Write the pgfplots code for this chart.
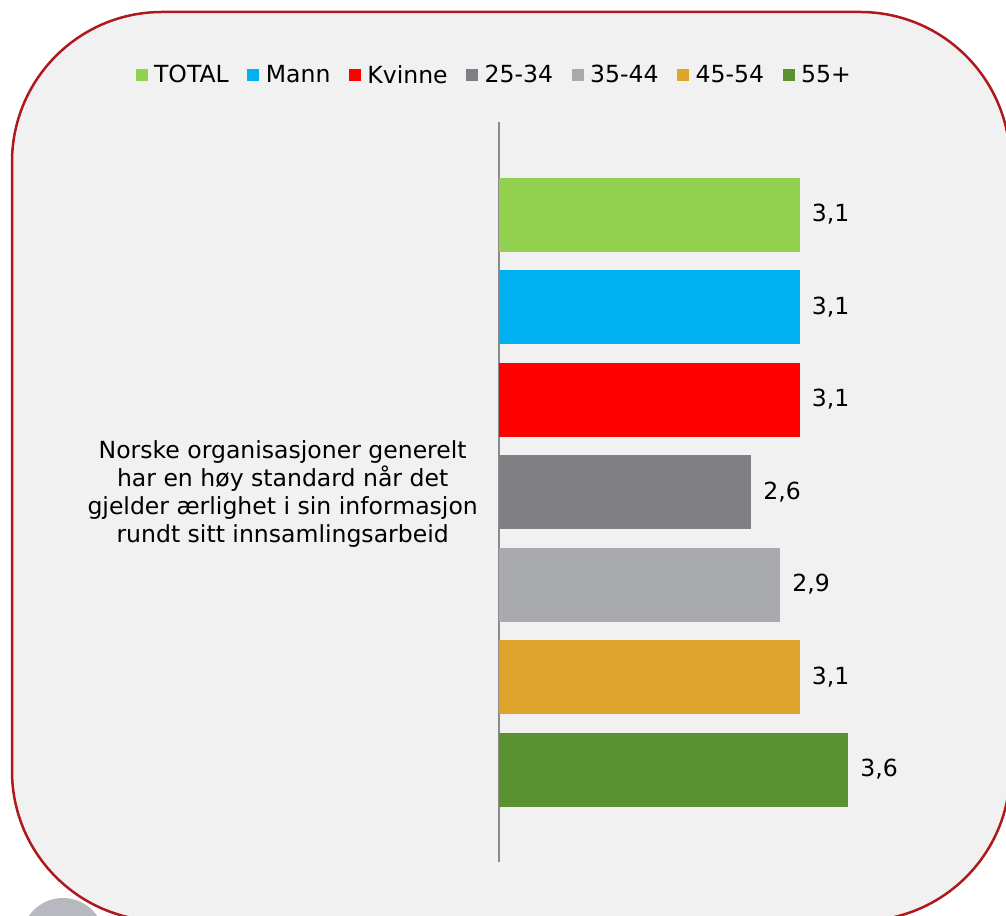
\documentclass[border=0pt]{standalone}
\usepackage{fontspec}
\setmainfont{DejaVu Sans}
\usepackage{pgfplots}
\pgfplotsset{compat=1.18}

\definecolor{panel}{HTML}{F1F1F1}
\definecolor{frame}{HTML}{B0191C}
\definecolor{cTotal}{HTML}{92D050}
\definecolor{cMann}{HTML}{00B0F0}
\definecolor{cKvinne}{HTML}{FF0000}
\definecolor{cA}{HTML}{808084}
\definecolor{cB}{HTML}{A8AAAD}
\definecolor{cC}{HTML}{E0A32B}
\definecolor{cD}{HTML}{5A9131}
\definecolor{dotgray}{HTML}{B8B8C0}

\begin{document}
\begin{tikzpicture}
% page is 1006x915 px, 1px = 0.02cm
\path[use as bounding box] (0,0) rectangle (20.12,18.3);
\clip (0,0) rectangle (20.12,18.3);
\fill[white] (0,0) rectangle (20.12,18.3);
\draw[draw=frame, fill=panel, line width=0.05cm, rounded corners=3cm] (0.24,-0.12) rectangle (20.2,18.06);
\fill[dotgray] (1.26,-0.49) circle (0.83);

\begin{axis}[
    at={(9.98cm,1.06cm)}, anchor=south west,
    scale only axis, width=9.02cm, height=14.8cm,
    xbar, bar width=0.8, bar shift=0pt,
    xmin=0, xmax=4.65, ymin=0, ymax=8,
    y dir=reverse,
    axis x line=none, axis y line=left,
    axis line style={-, draw=gray!90, line width=0.8pt},
    ytick={4},
    yticklabels={{Norske organisasjoner generelt\\har en høy standard når det\\gjelder ærlighet i sin informasjon\\rundt sitt innsamlingsarbeid}},
    yticklabel style={align=center, font=\fontsize{13.4}{16}\selectfont, xshift=-0.3cm, yshift=-0.04cm},
    major tick length=0pt,
    nodes near coords,
    point meta=x,
    nodes near coords style={font=\fontsize{13.4}{16}\selectfont, xshift=0.12cm,
        /pgf/number format/.cd, use comma, fixed, fixed zerofill, precision=1, assume math mode=true},
    legend style={at={(axis description cs:-0.009,1.063)}, anchor=center,
        legend columns=-1, draw=none, fill=none,
        font=\fontsize{13.4}{16}\selectfont,
        /tikz/every odd column/.append style={column sep=0.06cm},
        /tikz/every even column/.append style={column sep=0.3cm}},
    legend image code/.code={\fill[#1] (0cm,-0.12cm) rectangle (0.24cm,0.12cm);},
]
\addplot[fill=cTotal, draw=none] coordinates {(3.1,1)};
\addlegendentry{TOTAL}
\addplot[fill=cMann, draw=none] coordinates {(3.1,2)};
\addlegendentry{Mann}
\addplot[fill=cKvinne, draw=none] coordinates {(3.1,3)};
\addlegendentry{Kvinne}
\addplot[fill=cA, draw=none] coordinates {(2.6,4)};
\addlegendentry{25-34}
\addplot[fill=cB, draw=none] coordinates {(2.9,5)};
\addlegendentry{35-44}
\addplot[fill=cC, draw=none] coordinates {(3.1,6)};
\addlegendentry{45-54}
\addplot[fill=cD, draw=none] coordinates {(3.6,7)};
\addlegendentry{55+}
\end{axis}
\end{tikzpicture}
\end{document}
